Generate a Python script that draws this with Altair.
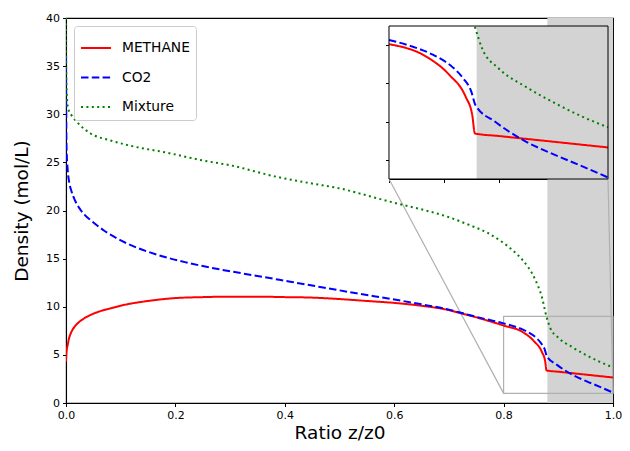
import altair as alt
import pandas as pd

# ---------------- data ----------------
SERIES = ["METHANE", "CO2", "Mixture"]
COLORS = ["#ff0000", "#0000ff", "#008000"]

METHANE_X = [0, 0.001, 0.003, 0.005, 0.008, 0.012, 0.016, 0.022, 0.03, 0.038, 0.045, 0.06,
             0.08, 0.107, 0.15, 0.2, 0.25, 0.3, 0.35, 0.4, 0.45, 0.5, 0.55, 0.6, 0.65, 0.7,
             0.72, 0.75, 0.78, 0.8, 0.834, 0.855, 0.87, 0.876, 0.8785, 0.9, 0.95, 1.0]
METHANE_Y = [4.3, 5.3, 6.0, 6.6, 7.14, 7.62, 7.95, 8.32, 8.67, 8.95, 9.15, 9.49,
             9.81, 10.2, 10.6, 10.9, 11.0, 11.05, 11.05, 11.0, 10.95, 10.8, 10.6, 10.4, 10.1, 9.65,
             9.35, 8.9, 8.4, 8.05, 7.4, 6.45, 5.3, 4.35, 3.38, 3.25, 2.95, 2.65]

CO2_X = [0, 0.0005, 0.001, 0.003, 0.006, 0.01, 0.016, 0.025, 0.035, 0.045, 0.07, 0.107, 0.167,
         0.22, 0.289, 0.35, 0.41, 0.47, 0.531, 0.6, 0.65, 0.7, 0.72, 0.75, 0.78, 0.8,
         0.82, 0.84, 0.858, 0.868, 0.875, 0.879, 0.897, 0.923, 0.952, 0.975, 1.0]
CO2_Y = [36.0, 29.0, 26.5, 24.3, 22.9, 22.0, 21.1, 20.2, 19.5, 19.0, 17.9, 16.7, 15.4,
         14.6, 13.8, 13.2, 12.6, 12.0, 11.4, 10.75, 10.25, 9.7, 9.4, 8.95, 8.55, 8.27,
         7.95, 7.5, 6.85, 6.25, 5.6, 4.86, 3.99, 3.02, 2.25, 1.7, 1.08]

MIX_X = [0, 0.0005, 0.002, 0.004, 0.01, 0.02, 0.045, 0.08, 0.12, 0.185, 0.25, 0.3,
         0.385, 0.45, 0.5, 0.567, 0.6, 0.658, 0.7, 0.737, 0.77, 0.798, 0.82, 0.834,
         0.858, 0.87, 0.8785, 0.885, 0.9, 0.925, 0.952, 0.975, 1.0]
MIX_Y = [40.0, 34.0, 31.5, 30.6, 29.9, 29.2, 28.0, 27.3, 26.7, 26.0, 25.2, 24.7,
         23.5, 22.8, 22.3, 21.3, 20.8, 20.0, 19.3, 18.5, 17.7, 16.7, 15.7, 14.9,
         12.8, 11.0, 8.96, 7.83, 6.79, 5.82, 4.95, 4.3, 3.70]

X_TICKS = [0.0, 0.2, 0.4, 0.6, 0.8, 1.0]
Y_TICKS = [0, 5, 10, 15, 20, 25, 30, 35, 40]
X_DOMAIN = [0, 1]
Y_DOMAIN = [0, 40]
INSET_X_TICKS = [0.8, 0.85, 0.9, 0.95, 1.0]
INSET_Y_TICKS = [2, 4, 6, 8]
ZOOM_X = [0.8, 1.0]
ZOOM_Y = [1.0, 9.0]
SHADE_X = [0.88, 1.0]

# ---------------- layout ----------------
W, H = 547, 385
INSET_L, INSET_R, INSET_T, INSET_B = 323, 542, 8, 161
FONT = "DejaVu Sans"
DASHES = [[1, 0], [7.5, 3.3], [2, 3.4]]

rows = []
for name, xs, ys in [("METHANE", METHANE_X, METHANE_Y), ("CO2", CO2_X, CO2_Y),
                     ("Mixture", MIX_X, MIX_Y)]:
    for a, b in zip(xs, ys):
        rows.append({"series": name, "x": a, "y": b})
df = pd.DataFrame(rows)

shade_main = pd.DataFrame([{"x0": SHADE_X[0], "x1": SHADE_X[1], "y0": Y_DOMAIN[0], "y1": Y_DOMAIN[1]}])
shade_inset = pd.DataFrame([{"x0": SHADE_X[0], "x1": SHADE_X[1], "y0": ZOOM_Y[0], "y1": ZOOM_Y[1]}])
zoom_df = pd.DataFrame([{"x0": ZOOM_X[0], "x1": ZOOM_X[1], "y0": ZOOM_Y[0], "y1": ZOOM_Y[1]}])
corner_l = pd.DataFrame([{"cx": ZOOM_X[0], "cy": ZOOM_Y[0]}])
corner_r = pd.DataFrame([{"cx": ZOOM_X[1], "cy": ZOOM_Y[0]}])

# ---------------- scales / axes ----------------
xs_main = alt.Scale(domain=X_DOMAIN, nice=False, zero=False)
ys_main = alt.Scale(domain=Y_DOMAIN, nice=False, zero=False)
xa_main = alt.Axis(values=X_TICKS, format=".1f", title="Ratio z/z0", grid=False,
                   titleFontSize=18.5, titleFontWeight="normal", titlePadding=3,
                   labelFontSize=11, tickSize=3.5, labelPadding=3, labelFlush=False)
ya_main = alt.Axis(values=Y_TICKS, format="d", title="Density (mol/L)", grid=False,
                   titleFontSize=18.5, titleFontWeight="normal", titlePadding=14,
                   labelFontSize=11, tickSize=3.5, labelPadding=3, labelFlush=False)

xs_in = alt.Scale(domain=ZOOM_X, range=[INSET_L, INSET_R], nice=False, zero=False)
ys_in = alt.Scale(domain=ZOOM_Y, range=[INSET_B, INSET_T], nice=False, zero=False)
xa_in = alt.Axis(orient="bottom", offset=-(H - INSET_B), values=INSET_X_TICKS, labels=False,
                 title=None, tickSize=3.5, grid=False)
ya_in = alt.Axis(orient="left", offset=-INSET_L, values=INSET_Y_TICKS, labels=False,
                 title=None, tickSize=3.5, grid=False)

legend = alt.Legend(title=None, orient="top-left", offset=8, symbolType="stroke",
                    symbolSize=900, symbolStrokeWidth=2, labelFontSize=13.8, labelFont=FONT,
                    labelColor="black", padding=6, rowPadding=6.5, labelOffset=10,
                    strokeColor="#cccccc", fillColor="white", cornerRadius=3)
color_enc = alt.Color("series:N", scale=alt.Scale(domain=SERIES, range=COLORS), legend=legend)
dash_enc = alt.StrokeDash("series:N", scale=alt.Scale(domain=SERIES, range=DASHES), legend=legend)

# ---------------- main panel ----------------
m_shade = alt.Chart(shade_main).mark_rect(color="#d3d3d3").encode(
    x=alt.X("x0:Q", scale=xs_main, axis=xa_main), x2="x1:Q",
    y=alt.Y("y0:Q", scale=ys_main, axis=ya_main), y2="y1:Q")
m_box = alt.Chart(zoom_df).mark_rect(fillOpacity=0, stroke="#b0b0b0", strokeWidth=1.2).encode(
    x=alt.X("x0:Q", scale=xs_main, axis=xa_main), x2="x1:Q",
    y=alt.Y("y0:Q", scale=ys_main, axis=ya_main), y2="y1:Q")
m_con_l = alt.Chart(corner_l).mark_rule(color="#b0b0b0", strokeWidth=1.2).encode(
    x=alt.X("cx:Q", scale=xs_main, axis=xa_main), y=alt.Y("cy:Q", scale=ys_main, axis=ya_main),
    x2=alt.value(INSET_L), y2=alt.value(INSET_B))
m_con_r = alt.Chart(corner_r).mark_rule(color="#b0b0b0", strokeWidth=1.2).encode(
    x=alt.X("cx:Q", scale=xs_main, axis=xa_main), y=alt.Y("cy:Q", scale=ys_main, axis=ya_main),
    x2=alt.value(INSET_R), y2=alt.value(INSET_B))
m_lines = alt.Chart(df).mark_line(strokeWidth=2, interpolate="monotone", clip=True).encode(
    x=alt.X("x:Q", scale=xs_main, axis=xa_main),
    y=alt.Y("y:Q", scale=ys_main, axis=ya_main),
    color=color_enc, strokeDash=dash_enc, order="x:Q")
main = alt.layer(m_shade, m_box, m_con_l, m_con_r, m_lines)

# ---------------- inset ----------------
i_bg = alt.Chart(zoom_df).mark_rect(color="white").encode(
    x=alt.X("x0:Q", scale=xs_in, axis=xa_in), x2="x1:Q",
    y=alt.Y("y0:Q", scale=ys_in, axis=ya_in), y2="y1:Q")
i_shade = alt.Chart(shade_inset).mark_rect(color="#d3d3d3").encode(
    x=alt.X("x0:Q", scale=xs_in, axis=xa_in), x2="x1:Q",
    y=alt.Y("y0:Q", scale=ys_in, axis=ya_in), y2="y1:Q")
i_lines = alt.Chart(df).transform_filter(
    (alt.datum.x >= ZOOM_X[0]) & (alt.datum.y <= ZOOM_Y[1])
).mark_line(strokeWidth=2, interpolate="monotone").encode(
    x=alt.X("x:Q", scale=xs_in, axis=xa_in),
    y=alt.Y("y:Q", scale=ys_in, axis=ya_in),
    color=color_enc, strokeDash=dash_enc, order="x:Q")
i_frame = alt.Chart(zoom_df).mark_rect(fillOpacity=0, stroke="black", strokeWidth=1).encode(
    x=alt.X("x0:Q", scale=xs_in, axis=xa_in), x2="x1:Q",
    y=alt.Y("y0:Q", scale=ys_in, axis=ya_in), y2="y1:Q")
inset = alt.layer(i_bg, i_shade, i_lines, i_frame)

chart = alt.layer(main, inset).resolve_scale(
    x="independent", y="independent"
).properties(
    width=W, height=H,
    autosize=alt.AutoSizeParams(type="none"),
    padding={"left": 58, "top": 10, "right": 9, "bottom": 40},
).configure_view(stroke="black", strokeWidth=1.1).configure_axis(
    labelFont=FONT, titleFont=FONT, labelColor="black", titleColor="black",
    tickColor="black", domainColor="black", domainWidth=1.1, tickWidth=1
)

chart.save("out.html", embed_options={"renderer": "svg", "actions": False})
